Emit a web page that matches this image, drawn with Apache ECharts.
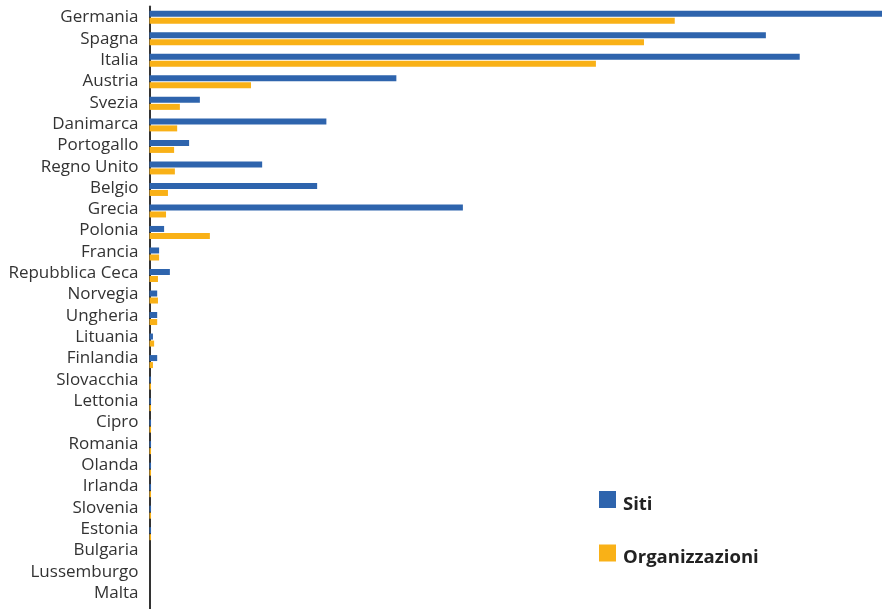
<!DOCTYPE html>
<html>
<head>
<meta charset="utf-8">
<script src="https://cdn.jsdelivr.net/npm/echarts@6/dist/echarts.min.js"></script>
<style>
  html, body { margin: 0; padding: 0; background: #ffffff; }
  #chart { width: 882px; height: 609px; }
</style>
</head>
<body>
<div id="chart"></div>
<script>
// Paesi, dall'alto verso il basso
const countries = [
  'Germania', 'Spagna', 'Italia', 'Austria', 'Svezia', 'Danimarca', 'Portogallo',
  'Regno Unito', 'Belgio', 'Grecia', 'Polonia', 'Francia', 'Repubblica Ceca',
  'Norvegia', 'Ungheria', 'Lituania', 'Finlandia', 'Slovacchia', 'Lettonia',
  'Cipro', 'Romania', 'Olanda', 'Irlanda', 'Slovenia', 'Estonia', 'Bulgaria',
  'Lussemburgo', 'Malta'
];

// Siti registrati per paese
const siti = [
  1905, 1603, 1691, 642, 131, 460, 103,
  293, 436, 815, 38, 25, 53,
  20, 20, 9, 20, 4, 4,
  4, 4, 4, 4, 4, 4, 0,
  0, 0
];

// Organizzazioni registrate per paese
const organizzazioni = [
  1366, 1286, 1161, 264, 79, 72, 64,
  66, 48, 43, 157, 25, 22,
  22, 20, 12, 9, 4, 4,
  4, 4, 4, 4, 4, 4, 0,
  0, 0
];

const seriesNames = ['Siti', 'Organizzazioni'];
const axisMax = 1905;

const BLUE = '#2e64ad';
const ORANGE = '#f9b117';

const chart = echarts.init(document.getElementById('chart'), null, { renderer: 'canvas' });

chart.setOption({
  backgroundColor: '#ffffff',
  animation: false,
  grid: [
    // bars
    { left: 149.5, top: 6.55, width: 732.5, height: 607.6, containLabel: false },
    // country names
    { left: 149.5, top: 6.84, width: 732.5, height: 596.8, containLabel: false }
  ],
  legend: {
    orient: 'vertical',
    left: 599,
    top: 491,
    padding: 0,
    itemWidth: 17,
    itemHeight: 17,
    itemGap: 30.5,
    icon: 'rect',
    data: seriesNames,
    formatter: '{t|{name}}',
    textStyle: {
      fontFamily: 'Open Sans',
      fontWeight: 'bold',
      fontSize: 18.5,
      color: '#222222',
      rich: {
        t: {
          fontFamily: 'Open Sans',
          fontWeight: 'bold',
          fontSize: 18.5,
          color: '#222222',
          lineHeight: 29,
          verticalAlign: 'bottom',
          padding: [0, 0, 0, 2]
        }
      }
    }
  },
  xAxis: [
    { type: 'value', gridIndex: 0, min: 0, max: axisMax, show: false },
    { type: 'value', gridIndex: 1, min: 0, max: axisMax, show: false }
  ],
  yAxis: [
    {
      type: 'category',
      gridIndex: 0,
      inverse: true,
      data: countries,
      axisLine: { show: true, onZero: false, lineStyle: { color: '#333333', width: 2 } },
      axisTick: { show: false },
      axisLabel: { show: false },
      splitLine: { show: false }
    },
    {
      type: 'category',
      gridIndex: 1,
      inverse: true,
      data: countries,
      axisLine: { show: false },
      axisTick: { show: false },
      splitLine: { show: false },
      axisLabel: {
        show: true,
        interval: 0,
        margin: 11,
        fontFamily: 'Open Sans',
        fontSize: 17,
        color: '#333333'
      }
    }
  ],
  series: [
    {
      name: seriesNames[0],
      type: 'bar',
      xAxisIndex: 0,
      yAxisIndex: 0,
      data: siti,
      barWidth: 6,
      barGap: '17%',
      itemStyle: { color: BLUE },
      emphasis: { disabled: true }
    },
    {
      name: seriesNames[1],
      type: 'bar',
      xAxisIndex: 0,
      yAxisIndex: 0,
      data: organizzazioni,
      barWidth: 6,
      barGap: '17%',
      itemStyle: { color: ORANGE },
      emphasis: { disabled: true }
    }
  ]
});
</script>
</body>
</html>
